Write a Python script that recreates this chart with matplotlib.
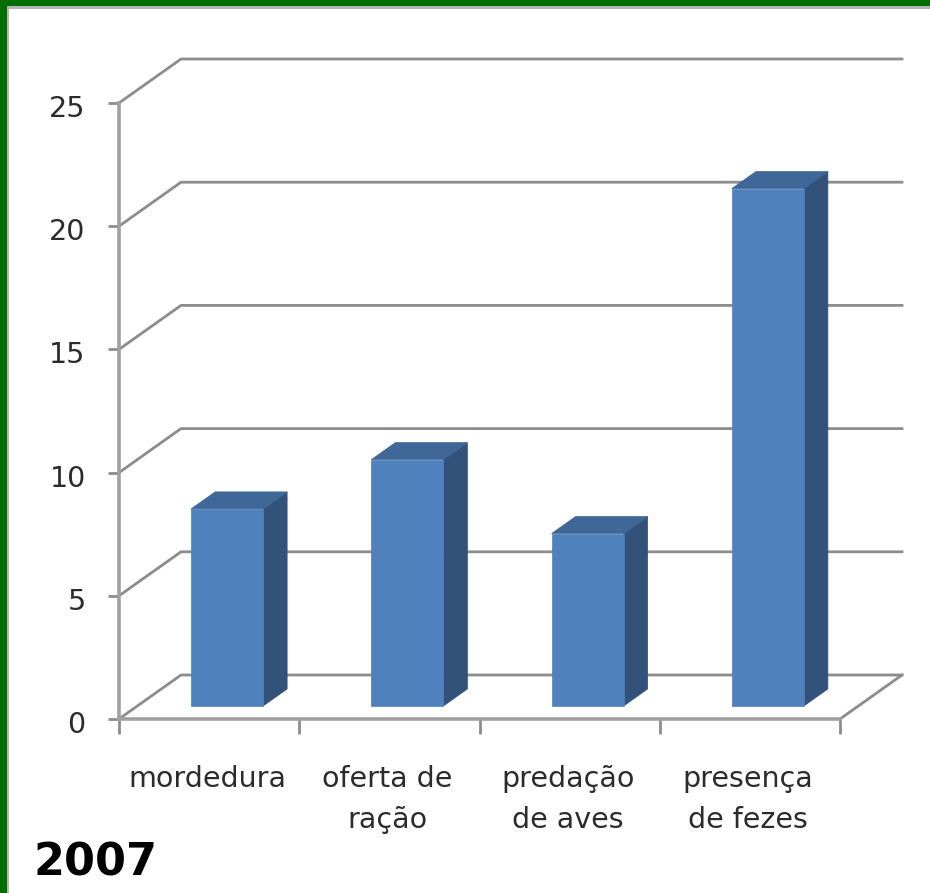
import matplotlib
matplotlib.use("Agg")
import matplotlib.pyplot as plt
from matplotlib.patches import Polygon, Rectangle
from matplotlib.transforms import ScaledTranslation

# data
categories = ["mordedura", "oferta de\nração", "predação\nde aves", "presença\nde fezes"]
values = [8, 10, 7, 21]
yticks = [0, 5, 10, 15, 20, 25]
note = "2007"

GREY = "#8c8c8c"
AXIS_GREY = "#a0a0a0"
TEXT = "#2b2b2b"
FRONT = "#4f81bd"
SIDE = "#32527a"
TOP = "#3f6797"
GREEN = "#006f00"

W, H = 930, 893
fig = plt.figure(figsize=(W / 100, H / 100), dpi=100, facecolor="white")

# axes = front plane of the fake 3d box
left, right, bottom, top = 119, 840, 719, 103
ax = fig.add_axes([left / W, 1 - bottom / H, (right - left) / W, (bottom - top) / H])
ax.set_xlim(0, 4)
ax.set_ylim(0, 25)
ax.patch.set_alpha(0)

# depth of the box and the bars, in data units
px_x = 4 / (right - left)
px_y = 25 / (bottom - top)
dx, dy = 62 * px_x, 44 * px_y
bar_w = 72 * px_x
shift_x, base_y = 18 * px_x, 13 * px_y
side_x, side_y = 24 * px_x, 17 * px_y

# walls
for t in yticks:
    ax.plot([0, dx, 4 + dx], [t, t + dy, t + dy], color=GREY, lw=2, clip_on=False, zorder=1)
ax.plot([4, 4 + dx], [0, dy], color=GREY, lw=2, clip_on=False, zorder=1)

# bars
for i, v in enumerate(values):
    x0 = i + 0.5 - bar_w / 2 + shift_x
    x1 = x0 + bar_w
    ax.add_patch(Polygon([(x1, base_y), (x1 + side_x, base_y + side_y),
                          (x1 + side_x, base_y + v + side_y), (x1, base_y + v)],
                         fc=SIDE, ec=SIDE, lw=0.5, zorder=3))
    ax.add_patch(Polygon([(x0, base_y + v), (x0 + side_x, base_y + v + side_y),
                          (x1 + side_x, base_y + v + side_y), (x1, base_y + v)],
                         fc=TOP, ec=TOP, lw=0.5, zorder=3))
    ax.add_patch(Rectangle((x0, base_y), bar_w, v, fc=FRONT, ec=FRONT, lw=0.5, zorder=4))

for s in ["top", "right"]:
    ax.spines[s].set_visible(False)
for s in ["left", "bottom"]:
    ax.spines[s].set_color(AXIS_GREY)
    ax.spines[s].set_linewidth(2.6)

ax.set_yticks(yticks)
ax.set_xticks(range(5))
ax.set_xticklabels([])
ax.set_xticks([i + 0.5 for i in range(4)], categories, minor=True)
ax.tick_params(axis="y", length=8, width=2, color=GREY, labelsize=20.5, pad=16, labelcolor=TEXT)
ax.tick_params(axis="x", which="major", length=11, width=2, color=GREY)
ax.tick_params(axis="x", which="minor", length=0, labelsize=20.5, pad=33, labelcolor=TEXT)

# labels sit a bit off the ticks in the original
y_nudge = ScaledTranslation(0, -3 / 100, fig.dpi_scale_trans)
for lab in ax.get_yticklabels():
    lab.set_transform(lab.get_transform() + y_nudge)
x_nudge = ScaledTranslation(-2 / 100, 0, fig.dpi_scale_trans)
for lab in ax.get_xticklabels(minor=True):
    lab.set_linespacing(1.62)
    lab.set_transform(lab.get_transform() + x_nudge)

fig.text(33 / W, 1 - 875 / H, note, fontsize=32, fontweight="bold", color="black")

# green frame of the slide, only top and left
fig.add_artist(Rectangle((0, 1 - 9 / H), 1, 9 / H, transform=fig.transFigure, fc="#b5b5b5", ec="none"))
fig.add_artist(Rectangle((0, 0), 9 / W, 1, transform=fig.transFigure, fc="#b5b5b5", ec="none"))
fig.add_artist(Rectangle((0, 1 - 6 / H), 1, 6 / H, transform=fig.transFigure, fc=GREEN, ec="none"))
fig.add_artist(Rectangle((0, 0), 7 / W, 1, transform=fig.transFigure, fc=GREEN, ec="none"))

fig.savefig("out.png", dpi=100)
